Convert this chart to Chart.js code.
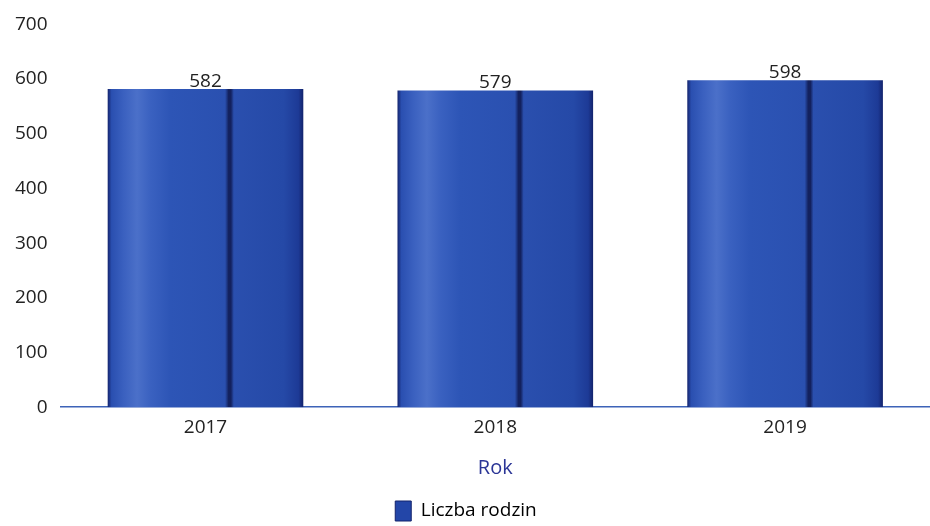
<!DOCTYPE html>
<html lang="pl">
<head>
  <meta charset="UTF-8">
  <title>Liczba rodzin</title>
  <script src="https://cdn.jsdelivr.net/npm/chart.js"></script>
  <style>
    html, body { margin: 0; padding: 0; background: #fff; }
    .wrap { width: 930px; height: 526px; }
  </style>
</head>
<body>
  <div class="wrap"><canvas id="chart" width="930" height="526"></canvas></div>
  <script>
    // chart data
    const years = ['2017', '2018', '2019'];
    const families = [582, 579, 598];
    const yTicks = [0, 100, 200, 300, 400, 500, 600, 700];

    const BAR_PCT = 0.75, CAT_PCT = 0.9;
    const FONT = '"Open Sans", sans-serif';

    // cylinder-ish shading, one gradient per bar (scriptable so options aren't shared)
    function barShade(c) {
      const chart = c.chart, xs = chart.scales.x;
      if (!xs || !chart.chartArea) return '#2a4fb0';
      const cx = xs.getPixelForValue(c.dataIndex);
      const w = xs.width / years.length * CAT_PCT * BAR_PCT;
      const x0 = cx - w / 2, x1 = cx + w / 2;
      const g = chart.ctx.createLinearGradient(x0, 0, x1, 0);
      g.addColorStop(0, '#14246e');
      g.addColorStop(0.02, '#2a4fb0');
      g.addColorStop(0.08, '#3a60bf');
      g.addColorStop(0.15, '#4b70c9');
      g.addColorStop(0.22, '#3a61c0');
      g.addColorStop(0.32, '#2d55b6');
      g.addColorStop(0.6, '#2a50b0');
      g.addColorStop(0.618, '#13215e');
      g.addColorStop(0.63, '#13215e');
      g.addColorStop(0.645, '#2a4fae');
      g.addColorStop(0.9, '#2549a7');
      g.addColorStop(0.975, '#1d3a96');
      g.addColorStop(1, '#13236c');
      return g;
    }

    // value above each bar
    const barLabels = {
      id: 'barLabels',
      afterDatasetsDraw(chart) {
        const ctx = chart.ctx;
        ctx.save();
        ctx.font = '19px ' + FONT;
        ctx.fillStyle = '#222';
        ctx.textAlign = 'center';
        ctx.textBaseline = 'bottom';
        chart.getDatasetMeta(0).data.forEach((bar, i) => {
          ctx.fillText(families[i], bar.x, bar.y + 2);
        });
        ctx.restore();
      }
    };

    new Chart(document.getElementById('chart'), {
      type: 'bar',
      data: {
        labels: years,
        datasets: [{
          label: 'Liczba rodzin',
          data: families,
          backgroundColor: barShade,
          borderWidth: 0,
          barPercentage: BAR_PCT,
          categoryPercentage: CAT_PCT
        }]
      },
      options: {
        responsive: false,
        animation: false,
        layout: { padding: { top: 11, right: 0, left: 2, bottom: -5 } },
        plugins: {
          legend: {
            position: 'bottom',
            labels: {
              color: '#222',
              font: { family: FONT, size: 19 },
              boxWidth: 16,
              boxHeight: 20,
              padding: 3,
              generateLabels: () => [{
                text: 'Liczba rodzin',
                fillStyle: '#2346a8',
                strokeStyle: '#13236c',
                lineWidth: 1,
                datasetIndex: 0
              }]
            }
          },
          tooltip: { enabled: false }
        },
        scales: {
          x: {
            grid: { display: false, drawTicks: false },
            border: { display: true, color: '#3d63b8', width: 1.5 },
            ticks: {
              color: '#222',
              font: { family: FONT, size: 19 },
              padding: 9
            },
            title: {
              display: true,
              text: 'Rok',
              color: '#2b3596',
              font: { family: FONT, size: 20 },
              padding: { top: 8, bottom: 18 }
            }
          },
          y: {
            min: 0,
            max: 700,
            afterBuildTicks: axis => { axis.ticks = yTicks.map(v => ({ value: v })); },
            grid: { display: false, drawTicks: false },
            border: { display: false },
            ticks: {
              color: '#222',
              font: { family: FONT, size: 19 },
              padding: 13
            }
          }
        }
      },
      plugins: [barLabels]
    });
  </script>
</body>
</html>
